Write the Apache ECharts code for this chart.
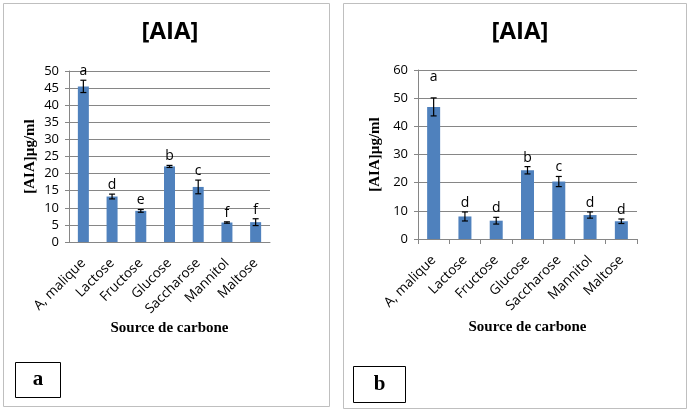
<!DOCTYPE html>
<html>
<head>
<meta charset="utf-8">
<script src="https://cdn.jsdelivr.net/npm/echarts@6/dist/echarts.min.js"></script>
<style>
  html, body { margin: 0; padding: 0; background: #fff; }
  #chart { width: 689px; height: 410px; }
</style>
</head>
<body>
<div id="chart"></div>
<script>
const categories = ['A, malique', 'Lactose', 'Fructose', 'Glucose', 'Saccharose', 'Mannitol', 'Maltose'];

// panel a
const valuesA = [45.5, 13.3, 9.1, 22.1, 16.1, 5.7, 5.8];
const errorsA = [1.8, 0.7, 0.4, 0.3, 2.0, 0.2, 1.0];
const lettersA = ['a', 'd', 'e', 'b', 'c', 'f', 'f'];
const ticksA = { min: 0, max: 50, interval: 5 };

// panel b
const valuesB = [46.9, 8.0, 6.5, 24.4, 20.4, 8.5, 6.3];
const errorsB = [3.2, 1.6, 1.2, 1.3, 1.8, 1.1, 0.8];
const lettersB = ['a', 'd', 'd', 'b', 'c', 'd', 'd'];
const ticksB = { min: 0, max: 60, interval: 10 };

const barColor = '#4f81bd';
const sans = '"Open Sans", "Noto Sans", sans-serif';
const serif = '"Liberation Serif", "DejaVu Serif", serif';

const chart = echarts.init(document.getElementById('chart'));

function errorSeries(idx, values, errors, letters) {
  return {
    type: 'custom',
    xAxisIndex: idx,
    yAxisIndex: idx,
    z: 5,
    data: values.map((v, i) => [i, v, errors[i]]),
    renderItem: (params, api) => {
      const i = api.value(0);
      const v = api.value(1);
      const e = api.value(2);
      const top = api.coord([i, v + e]);
      const bot = api.coord([i, v - e]);
      const cap = 3;
      const style = { stroke: '#000', lineWidth: 1.2 };
      // the first letter of panel b sits higher above its bar
      const extra = (idx === 1 && params.dataIndex === 0) ? 12 : 0;
      return {
        type: 'group',
        children: [
          { type: 'line', shape: { x1: top[0], y1: top[1], x2: bot[0], y2: bot[1] }, style },
          { type: 'line', shape: { x1: top[0] - cap, y1: top[1], x2: top[0] + cap, y2: top[1] }, style },
          { type: 'line', shape: { x1: bot[0] - cap, y1: bot[1], x2: bot[0] + cap, y2: bot[1] }, style },
          {
            type: 'text',
            style: {
              text: letters[params.dataIndex],
              x: top[0], y: top[1] - 2 - extra,
              align: 'center', verticalAlign: 'bottom',
              fill: '#000', font: '14px ' + sans
            }
          }
        ]
      };
    }
  };
}

function xAxis(idx, gap, showTicks) {
  return {
    type: 'category',
    gridIndex: idx,
    data: categories,
    name: 'Source de carbone',
    nameLocation: 'middle',
    nameGap: gap,
    nameTextStyle: { fontFamily: serif, fontWeight: 'bold', fontSize: 15, color: '#000' },
    axisLine: { lineStyle: { color: '#868686', width: 1 } },
    axisTick: { show: showTicks, length: 5, lineStyle: { color: '#868686' } },
    axisLabel: { rotate: 45, fontFamily: sans, fontSize: 13.5, color: '#000', margin: 19, interval: 0 }
  };
}

function yAxis(idx, ticks, gap) {
  return {
    type: 'value',
    gridIndex: idx,
    min: ticks.min, max: ticks.max, interval: ticks.interval,
    name: '[AIA]µg/ml',
    nameLocation: 'middle',
    nameGap: gap,
    nameTextStyle: { fontFamily: serif, fontWeight: 'bold', fontSize: 15, color: '#000' },
    axisLine: { show: true, lineStyle: { color: '#868686', width: 1 } },
    axisTick: { show: true, length: 4, lineStyle: { color: '#868686' } },
    axisLabel: { fontFamily: sans, fontSize: 13, color: '#000', margin: 10 },
    splitLine: { lineStyle: { color: '#868686', width: 1 } }
  };
}

function panelBox(x, y, w, h, lx, ly, lw, lh, letter) {
  return [
    { type: 'rect', shape: { x, y, width: w, height: h }, style: { fill: 'none', stroke: '#bfbfbf', lineWidth: 1 }, silent: true },
    { type: 'rect', shape: { x: lx, y: ly, width: lw, height: lh }, style: { fill: '#fff', stroke: '#000', lineWidth: 1 }, silent: true },
    { type: 'text', style: { text: letter, x: lx + lw / 2, y: ly + lh / 2, align: 'center', verticalAlign: 'middle', font: 'bold 21px ' + serif, fill: '#000' } }
  ];
}

chart.setOption({
  animation: false,
  title: [
    { text: '[AIA]', left: 165, top: 15, textAlign: 'center', textStyle: { fontFamily: sans, fontWeight: 'bold', fontSize: 24, color: '#000' } },
    { text: '[AIA]', left: 515, top: 15, textAlign: 'center', textStyle: { fontFamily: sans, fontWeight: 'bold', fontSize: 24, color: '#000' } }
  ],
  grid: [
    { left: 69, top: 71, width: 201, height: 171 },
    { left: 418, top: 70, width: 219, height: 169 }
  ],
  xAxis: [xAxis(0, 79, false), xAxis(1, 81, true)],
  yAxis: [yAxis(0, ticksA, 31), yAxis(1, ticksB, 35)],
  series: [
    { type: 'bar', xAxisIndex: 0, yAxisIndex: 0, data: valuesA, barWidth: 11, itemStyle: { color: barColor } },
    errorSeries(0, valuesA, errorsA, lettersA),
    { type: 'bar', xAxisIndex: 1, yAxisIndex: 1, data: valuesB, barWidth: 13, itemStyle: { color: barColor } },
    errorSeries(1, valuesB, errorsB, lettersB)
  ],
  graphic: [
    ...panelBox(3.5, 3.5, 326, 403, 15.5, 362.5, 45, 35, 'a'),
    ...panelBox(343.5, 3.5, 343, 405, 353.5, 366.5, 52, 36, 'b')
  ]
});
</script>
</body>
</html>
